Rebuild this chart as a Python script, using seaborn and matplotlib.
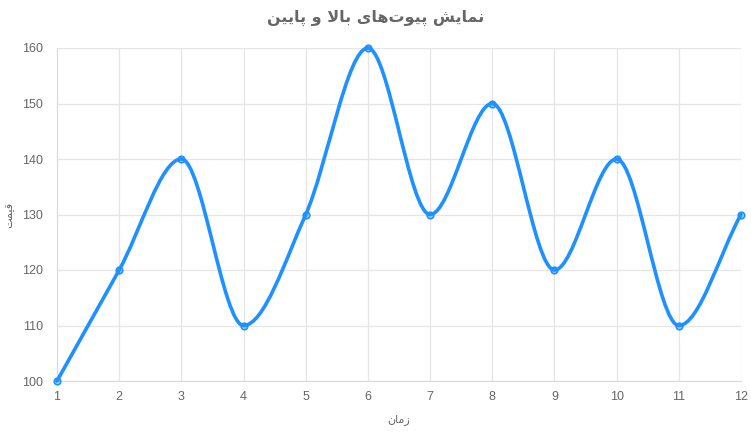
import numpy as np
import pandas as pd
import matplotlib
matplotlib.use("Agg")
from matplotlib import pyplot as plt
from matplotlib.path import Path
from matplotlib.patches import PathPatch
import seaborn as sns

# data
time_points = [1, 2, 3, 4, 5, 6, 7, 8, 9, 10, 11, 12]
price = [100, 120, 140, 110, 130, 160, 130, 150, 120, 140, 110, 130]
y_ticks = [100, 110, 120, 130, 140, 150, 160]

title_text = "نمایش پیوت‌های بالا و پایین"
xlabel_text = "زمان"
ylabel_text = "قیمت"

line_color = "#1E90FF"
text_color = "#666666"
grid_color = "#e5e5e5"

# --- tiny arabic/persian shaper (matplotlib has no text shaping) ---
# letter: (isolated, final, initial, medial); None means no left join
FORMS = {
    "ا": ("\uFE8D", "\uFE8E", None, None),
    "ب": ("\uFE8F", "\uFE90", "\uFE91", "\uFE92"),
    "ت": ("\uFE95", "\uFE96", "\uFE97", "\uFE98"),
    "ز": ("\uFEAF", "\uFEB0", None, None),
    "ش": ("\uFEB5", "\uFEB6", "\uFEB7", "\uFEB8"),
    "ق": ("\uFED5", "\uFED6", "\uFED7", "\uFED8"),
    "ل": ("\uFEDD", "\uFEDE", "\uFEDF", "\uFEE0"),
    "م": ("\uFEE1", "\uFEE2", "\uFEE3", "\uFEE4"),
    "ن": ("\uFEE5", "\uFEE6", "\uFEE7", "\uFEE8"),
    "ه": ("\uFEE9", "\uFEEA", "\uFEEB", "\uFEEC"),
    "و": ("\uFEED", "\uFEEE", None, None),
    "پ": ("\uFB56", "\uFB57", "\uFB58", "\uFB59"),
    "ی": ("\uFBFC", "\uFBFD", "\uFBFE", "\uFBFF"),
}


def shape(text):
    # merge lam-alef first
    chars = []
    i = 0
    while i < len(text):
        if text[i] == "ل" and i + 1 < len(text) and text[i + 1] == "ا":
            chars.append("LA")
            i += 2
        else:
            chars.append(text[i])
            i += 1

    def joins_left(c):
        return c in FORMS and FORMS[c][2] is not None

    out = []
    for k, c in enumerate(chars):
        prev = chars[k - 1] if k > 0 else None
        nxt = chars[k + 1] if k + 1 < len(chars) else None
        from_right = prev is not None and joins_left(prev)
        if c == "LA":
            out.append("\uFEFC" if from_right else "\uFEFB")
            continue
        if c not in FORMS:
            if c != "\u200c":
                out.append(c)
            continue
        iso, fin, ini, med = FORMS[c]
        to_left = ini is not None and nxt is not None and (nxt in FORMS or nxt == "LA")
        if from_right and to_left:
            out.append(med)
        elif from_right:
            out.append(fin)
        elif to_left:
            out.append(ini)
        else:
            out.append(iso)
    return "".join(out[::-1])


# --- chart.js style monotone cubic curve ---
def monotone_path(xs, ys):
    x = np.array(xs, float)
    y = np.array(ys, float)
    n = len(x)
    delta = np.diff(y) / np.diff(x)
    m = np.zeros(n)
    m[0], m[-1] = delta[0], delta[-1]
    for i in range(1, n - 1):
        if np.sign(delta[i - 1]) == np.sign(delta[i]) and delta[i] != 0:
            m[i] = (delta[i - 1] + delta[i]) / 2
    for i in range(n - 1):
        if delta[i] == 0:
            m[i] = m[i + 1] = 0
            continue
        a, b = m[i] / delta[i], m[i + 1] / delta[i]
        mag = a * a + b * b
        if mag > 9:
            tau = 3 / np.sqrt(mag)
            m[i], m[i + 1] = tau * a * delta[i], tau * b * delta[i]
    verts = [(x[0], y[0])]
    codes = [Path.MOVETO]
    for i in range(n - 1):
        dx = (x[i + 1] - x[i]) / 3
        verts += [(x[i] + dx, y[i] + dx * m[i]),
                  (x[i + 1] - dx, y[i + 1] - dx * m[i + 1]),
                  (x[i + 1], y[i + 1])]
        codes += [Path.CURVE4] * 3
    return Path(verts, codes)


sns.set_style("white")
plt.rcParams["font.family"] = ["Liberation Sans", "DejaVu Sans"]

fig = plt.figure(figsize=(7.51, 4.33), dpi=100)
ax = fig.add_axes([57 / 751, 1 - 381 / 433, 684 / 751, 333 / 433])

df = pd.DataFrame({"time": time_points, "price": price})

ax.add_patch(PathPatch(monotone_path(time_points, price), facecolor="none",
                       edgecolor=line_color, lw=2.6, capstyle="round",
                       joinstyle="round", zorder=3, clip_on=False))
sns.scatterplot(data=df, x="time", y="price", ax=ax, s=22, marker="o",
                facecolor=(30 / 255, 144 / 255, 1, 0.35), edgecolor=line_color,
                linewidth=1.2, zorder=4, clip_on=False)

ax.set_xlim(1, 12)
ax.set_ylim(100, 160)
ax.set_xticks(time_points)
ax.set_yticks(y_ticks)
ax.grid(True, color=grid_color, lw=0.9)
for s in ["top", "right"]:
    ax.spines[s].set_visible(False)
for s in ["left", "bottom"]:
    ax.spines[s].set_color("#d9d9d9")
ax.tick_params(axis="both", colors=text_color, labelsize=9, length=0, pad=7)
ax.tick_params(axis="y", length=7, color=grid_color, pad=3)

ax.set_xlabel(shape(xlabel_text), family="DejaVu Sans", color=text_color,
              fontsize=8, labelpad=8)
ax.set_ylabel(shape(ylabel_text), family="DejaVu Sans", color=text_color,
              fontsize=8, labelpad=6)
fig.suptitle(shape(title_text), family="DejaVu Sans", color=text_color,
             fontsize=11.5, fontweight="bold", y=0.978)

plt.savefig("out.png", dpi=100)
